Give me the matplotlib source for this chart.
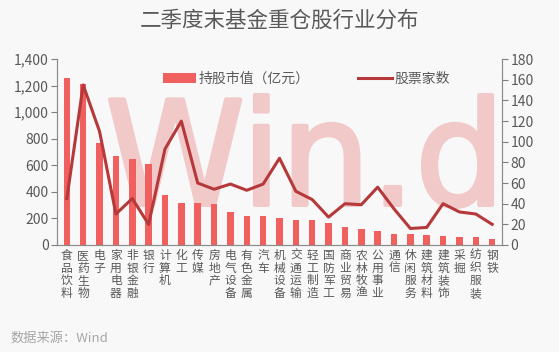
import matplotlib
matplotlib.use("Agg")
import matplotlib.pyplot as plt
from matplotlib.ticker import FuncFormatter
from matplotlib.textpath import TextPath
from matplotlib.patches import PathPatch
from matplotlib.font_manager import FontProperties
from matplotlib.transforms import Affine2D, IdentityTransform

plt.rcParams['font.family'] = ['Noto Sans CJK SC', 'DejaVu Sans']

categories = ["食品饮料", "医药生物", "电子", "家用电器", "非银金融", "银行", "计算机", "化工",
              "传媒", "房地产", "电气设备", "有色金属", "汽车", "机械设备", "交通运输", "轻工制造",
              "国防军工", "商业贸易", "农林牧渔", "公用事业", "通信", "休闲服务", "建筑材料",
              "建筑装饰", "采掘", "纺织服装", "钢铁"]
market_value = [1255, 1210, 770, 670, 650, 610, 380, 315, 315, 310, 250, 217, 217, 202,
                190, 187, 165, 135, 118, 105, 82, 80, 72, 65, 60, 60, 42]
stock_count = [45, 155, 110, 30, 45, 20, 93, 120, 60, 54, 59, 53, 59, 84,
               52, 44, 27, 40, 39, 56, 35, 16, 17, 40, 32, 30, 20]
left_ticks = [0, 200, 400, 600, 800, 1000, 1200, 1400]
right_ticks = [0, 20, 40, 60, 80, 100, 120, 140, 160, 180]

bg = "#f8f8f8"
bar_color = "#f0605e"
line_color = "#b5393a"
txt = "#595959"

W, H = 559, 352
fig = plt.figure(figsize=(W / 100, H / 100), dpi=100, facecolor=bg)

# watermark (behind everything)
tp = TextPath((0, 0), "Win.d", size=1, prop=FontProperties(family="DejaVu Sans", weight="normal"))
ext = tp.get_extents()
x0, x1 = 110, 492
y0, y1 = H - 207, H - 95
tr = Affine2D().translate(-ext.x0, -ext.y0).scale((x1 - x0) / ext.width, (y1 - y0) / ext.height).translate(x0, y0)
wm = PathPatch(tr.transform_path(tp), facecolor="#f1c9c8", edgecolor="#f1c9c8", lw=3,
               joinstyle="round", transform=IdentityTransform(), zorder=-5)
fig.patches.append(wm)
wm.set_figure(fig)

ax = fig.add_axes([0.102, 0.304, 0.796, 0.528])
ax.patch.set_alpha(0)

x = list(range(len(categories)))
ax.bar(x, market_value, width=0.4, color=bar_color, zorder=2, label="持股市值（亿元）")
ax.set_ylim(0, 1400)
ax.set_yticks(left_ticks)
ax.yaxis.set_major_formatter(FuncFormatter(lambda v, p: f"{int(v):,}"))
ax.set_xlim(-0.6, len(categories) - 0.4)
ax.set_xticks(x)
ax.set_xticklabels(["\n".join(c) for c in categories], fontsize=8.5, color=txt, linespacing=0.95,
                   va="top")
ax.tick_params(axis="x", length=0, pad=3)
ax.tick_params(axis="y", colors="#7f7f7f", labelcolor=txt, labelsize=10, length=4, pad=2)

ax2 = ax.twinx()
ax2.patch.set_alpha(0)
ax2.plot(x, stock_count, color=line_color, lw=2.2, zorder=3, label="股票家数")
ax2.set_ylim(0, 180)
ax2.set_yticks(right_ticks)
ax2.tick_params(axis="y", colors="#7f7f7f", labelcolor=txt, labelsize=10, length=4, pad=2)

for a in (ax, ax2):
    a.spines["top"].set_visible(False)
    for s in ("left", "right", "bottom"):
        a.spines[s].set_color("#8c8c8c")
        a.spines[s].set_linewidth(0.8)

h1, l1 = ax.get_legend_handles_labels()
h2, l2 = ax2.get_legend_handles_labels()
leg = ax2.legend(h1 + h2, l1 + l2, loc="upper center", bbox_to_anchor=(0.56, 1.0), ncol=2,
                 frameon=False, fontsize=10, handlelength=2.4, columnspacing=3.5, handletextpad=0.2,
                 labelcolor=txt)

fig.text(0.5, 0.94, "二季度末基金重仓股行业分布", ha="center", va="center", fontsize=15.5, color=txt)
fig.text(0.018, 0.04, "数据来源：Wind", ha="left", va="center", fontsize=9.5, color="#a6a6a6")

fig.savefig("out.png", dpi=100, facecolor=bg)
